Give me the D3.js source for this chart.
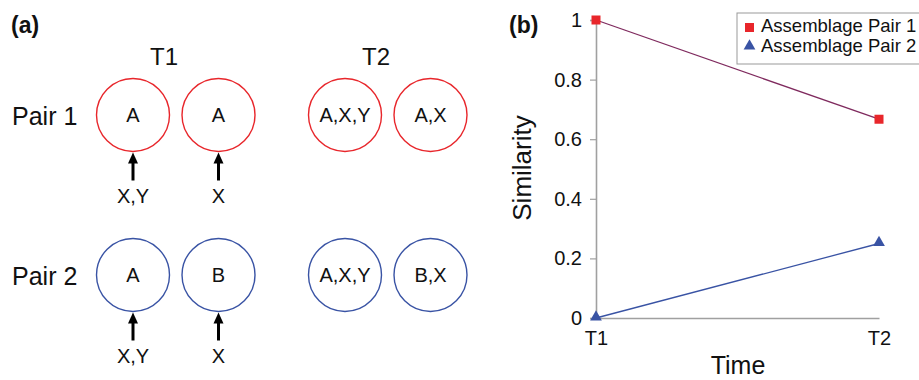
<!DOCTYPE html>
<html>
<head>
<meta charset="utf-8">
<script src="https://cdn.jsdelivr.net/npm/d3@7"></script>
<style>
  body { margin: 0; background: #fff; }
  text { font-family: Arial, "Liberation Sans", sans-serif; fill: #111; }
</style>
</head>
<body>
<svg width="919" height="380"></svg>
<script>
'use strict';

// panel (a): the schematic
let timeLabels = ["T1", "T2"];
let pairLabels = ["Pair 1", "Pair 2"];
let pairColors = ["#e8262b", "#3953a4"];
let contents = [
    [["A", "A"], ["A,X,Y", "A,X"]],
    [["A", "B"], ["A,X,Y", "B,X"]]
];
let arrivals = [["X,Y", "X"], ["X,Y", "X"]];

// panel (b): the similarity chart
let times = ["T1", "T2"];
let seriesNames = ["Assemblage Pair 1", "Assemblage Pair 2"];
let pair1 = [1, 0.667];
let pair2 = [0, 0.25];
let yTicks = [0, 0.2, 0.4, 0.6, 0.8, 1];

let svg = d3.select("svg");

// ---- panel (a)
svg.append("text").attr("x", 11).attr("y", 33)
    .style("font-size", "23px").style("font-weight", "bold").text("(a)");

let timeX = d3.scalePoint().domain(timeLabels).range([176, 388]);
let pairY = d3.scalePoint().domain(pairLabels).range([115, 275]);
let r = 36.5, gap = 85.5;

svg.selectAll(".tlab").data(timeLabels).enter().append("text")
    .attr("class", "tlab")
    .attr("x", function (d) { return timeX(d) - 12; })
    .attr("y", 65)
    .attr("text-anchor", "middle")
    .style("font-size", "24px")
    .text(function (d) { return d; });

pairLabels.forEach(function (p, pi) {
    let cy = pairY(p);
    svg.append("text").attr("x", 12).attr("y", cy + 10)
        .style("font-size", "25px").text(p);

    timeLabels.forEach(function (t, ti) {
        let x0 = timeX(t) - 43;
        contents[pi][ti].forEach(function (c, ci) {
            let cx = x0 + ci * gap;
            svg.append("circle").attr("cx", cx).attr("cy", cy).attr("r", r)
                .attr("fill", "none").attr("stroke", pairColors[pi]).attr("stroke-width", 1.4);
            svg.append("text").attr("x", cx).attr("y", cy + 7)
                .attr("text-anchor", "middle").style("font-size", "20px").text(c);

            if (ti === 0) {
                let top = cy + r + 1;
                svg.append("path")
                    .attr("d", `M ${cx} ${top + 28} L ${cx} ${top + 8}`)
                    .attr("stroke", "#000").attr("stroke-width", 3);
                svg.append("path")
                    .attr("d", `M ${cx} ${top} L ${cx - 5} ${top + 11} L ${cx + 5} ${top + 11} Z`)
                    .attr("fill", "#000");
                svg.append("text").attr("x", cx).attr("y", top + 50)
                    .attr("text-anchor", "middle").style("font-size", "20px")
                    .text(arrivals[pi][ci]);
            }
        });
    });
});

// ---- panel (b)
svg.append("text").attr("x", 509).attr("y", 33)
    .style("font-size", "23px").style("font-weight", "bold").text("(b)");

let x = d3.scalePoint().domain(times).range([596, 879]);
let y = d3.scaleLinear().domain([0, 1]).range([318, 20]);

let yAxis = svg.append("g").attr("transform", "translate(596,0)")
    .call(d3.axisLeft(y).tickValues(yTicks).tickFormat(d3.format("~g")).tickSize(6).tickPadding(8));
yAxis.select(".domain").attr("stroke", "#a0a0a0").attr("stroke-width", 1.6);
yAxis.selectAll(".tick line").attr("stroke", "#a0a0a0").attr("stroke-width", 1.2);
yAxis.selectAll(".tick text").style("font-size", "20px")
    .style("font-family", "Arial, 'Liberation Sans', sans-serif").attr("fill", "#111");

let xAxis = svg.append("g").attr("transform", "translate(0,318)")
    .call(d3.axisBottom(x).tickSize(0).tickPadding(13));
xAxis.select(".domain").attr("stroke", "#a0a0a0").attr("stroke-width", 1.6);
xAxis.selectAll(".tick text").style("font-size", "20px")
    .style("font-family", "Arial, 'Liberation Sans', sans-serif").attr("fill", "#111");

svg.append("text").attr("x", 738).attr("y", 374)
    .attr("text-anchor", "middle").style("font-size", "25px").text("Time");
svg.append("text")
    .attr("transform", "translate(531,168) rotate(-90)")
    .attr("text-anchor", "middle").style("font-size", "26px").text("Similarity");

let line = d3.line().x(function (d, i) { return x(times[i]); }).y(function (d) { return y(d); });

svg.append("path").datum(pair1).attr("d", line)
    .attr("fill", "none").attr("stroke", "#7f2a5e").attr("stroke-width", 1.3);
svg.append("path").datum(pair2).attr("d", line)
    .attr("fill", "none").attr("stroke", "#3953a4").attr("stroke-width", 1.3);

svg.selectAll(".sq").data(pair1).enter().append("rect")
    .attr("class", "sq")
    .attr("x", function (d, i) { return x(times[i]) - 4.5; })
    .attr("y", function (d) { return y(d) - 4.5; })
    .attr("width", 9).attr("height", 9).attr("fill", "#e8262b");

let tri = d3.symbol().type(d3.symbolTriangle).size(60);
svg.selectAll(".tri").data(pair2).enter().append("path")
    .attr("class", "tri")
    .attr("transform", function (d, i) { return "translate(" + x(times[i]) + "," + (y(d) - 1) + ")"; })
    .attr("d", tri).attr("fill", "#3953a4");

// legend
let legend = svg.append("g").attr("transform", "translate(737,13)");
legend.append("rect").attr("x", 0).attr("y", 0).attr("width", 190).attr("height", 51)
    .attr("fill", "#fff").attr("stroke", "#999").attr("stroke-width", 1);
legend.append("rect").attr("x", 8).attr("y", 10).attr("width", 9).attr("height", 9).attr("fill", "#e8262b");
legend.append("path").attr("transform", "translate(12.5,33)").attr("d", tri).attr("fill", "#3953a4");
legend.selectAll(".lt").data(seriesNames).enter().append("text")
    .attr("class", "lt")
    .attr("x", 24)
    .attr("y", function (d, i) { return 19 + i * 20; })
    .style("font-size", "18.5px")
    .text(function (d) { return d; });
</script>
</body>
</html>
